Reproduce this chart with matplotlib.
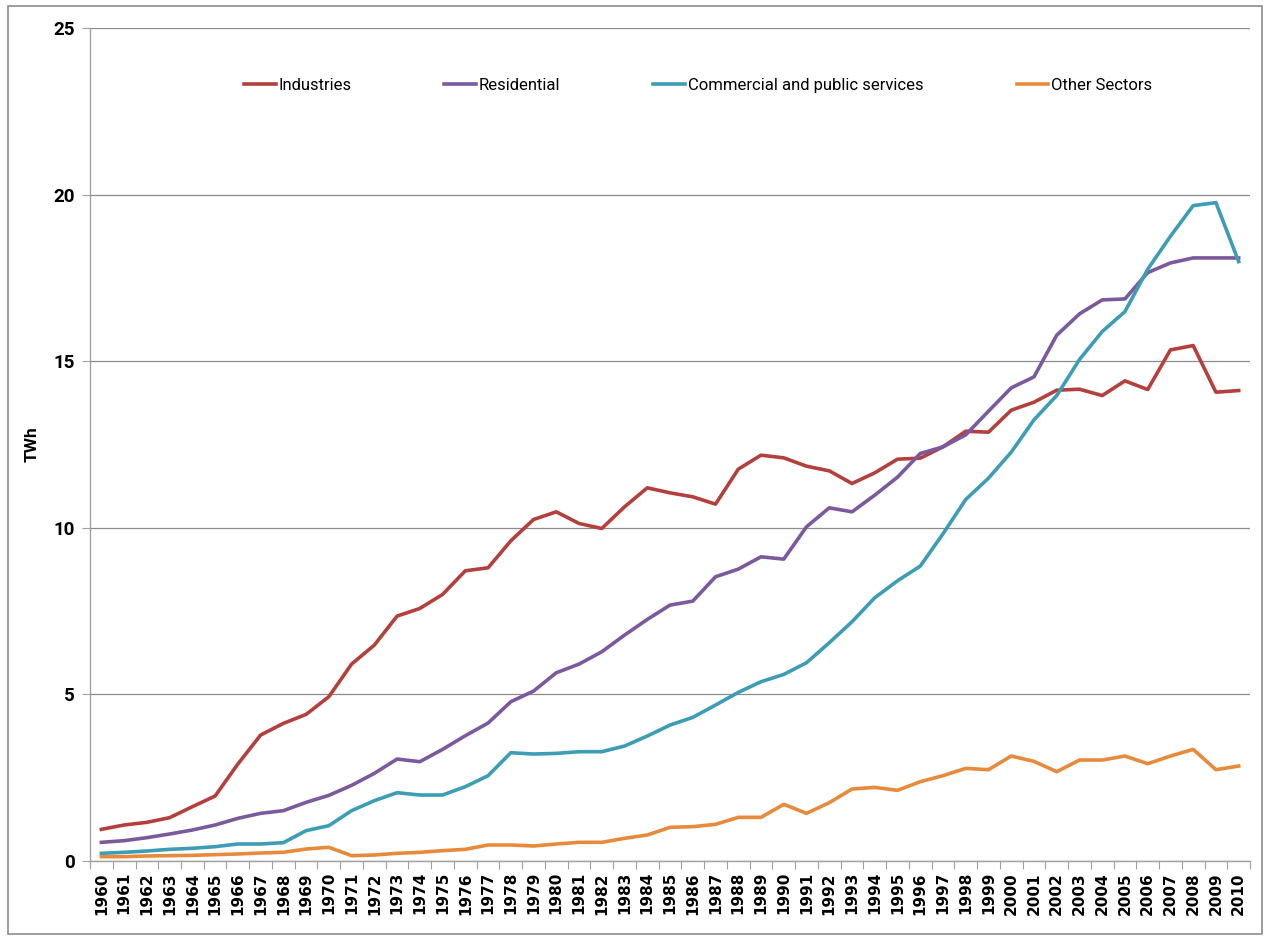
import matplotlib.pyplot as plt
from matplotlib.patches import Rectangle

years = [str(y) for y in range(1960, 2011)]

industries = [0.95, 1.08, 1.16, 1.30, 1.63, 1.95, 2.91, 3.78, 4.13, 4.40,
              4.93, 5.91, 6.48, 7.35, 7.58, 8.00, 8.71, 8.80, 9.61, 10.25,
              10.48, 10.13, 9.98, 10.63, 11.20, 11.05, 10.93, 10.71, 11.76, 12.18,
              12.10, 11.85, 11.71, 11.33, 11.65, 12.06, 12.09, 12.43, 12.90, 12.87,
              13.53, 13.77, 14.13, 14.16, 13.97, 14.41, 14.15, 15.34, 15.47, 14.07,
              14.12]
residential = [0.56, 0.61, 0.70, 0.81, 0.93, 1.08, 1.28, 1.43, 1.51, 1.76,
               1.97, 2.27, 2.63, 3.06, 2.98, 3.35, 3.76, 4.14, 4.78, 5.10,
               5.65, 5.91, 6.28, 6.78, 7.25, 7.68, 7.80, 8.53, 8.76, 9.13,
               9.06, 10.03, 10.60, 10.48, 10.98, 11.52, 12.23, 12.43, 12.79, 13.50,
               14.20, 14.53, 15.78, 16.42, 16.84, 16.87, 17.66, 17.95, 18.10, 18.10,
               18.10]
commercial = [0.23, 0.26, 0.30, 0.35, 0.38, 0.43, 0.51, 0.51, 0.55, 0.91,
              1.06, 1.51, 1.81, 2.05, 1.98, 1.98, 2.23, 2.56, 3.25, 3.21,
              3.23, 3.28, 3.28, 3.45, 3.75, 4.08, 4.31, 4.68, 5.06, 5.38,
              5.60, 5.95, 6.55, 7.18, 7.90, 8.41, 8.85, 9.82, 10.85, 11.49,
              12.27, 13.24, 13.97, 15.05, 15.89, 16.49, 17.76, 18.75, 19.67, 19.76,
              17.99]
other = [0.13, 0.13, 0.15, 0.16, 0.17, 0.19, 0.21, 0.24, 0.26, 0.36,
         0.41, 0.16, 0.18, 0.23, 0.26, 0.31, 0.35, 0.48, 0.48, 0.45,
         0.51, 0.56, 0.56, 0.68, 0.78, 1.01, 1.03, 1.10, 1.31, 1.31,
         1.70, 1.43, 1.75, 2.16, 2.21, 2.12, 2.38, 2.56, 2.78, 2.74,
         3.15, 2.99, 2.68, 3.03, 3.03, 3.15, 2.92, 3.15, 3.35, 2.74,
         2.85]

series = [
    ('Industries', industries, '#B3403D'),
    ('Residential', residential, '#7A5A9C'),
    ('Commercial and public services', commercial, '#3C9DB5'),
    ('Other Sectors', other, '#E88A3C'),
]

label_font = ['Roboto', 'DejaVu Sans']

fig = plt.figure(figsize=(12.66, 9.38), dpi=100)
ax = fig.add_axes([0.0711, 0.0821, 0.9163, 0.888])

x = list(range(len(years)))
for name, vals, col in series:
    ax.plot(x, vals, color=col, lw=2.6, label=name, solid_joinstyle='round')

ax.set_xlim(-0.5, len(years) - 0.5)
ax.set_ylim(0, 25)
ax.set_yticks([0, 5, 10, 15, 20, 25])
ax.yaxis.grid(True, color='#8c8c8c', lw=0.9)
ax.set_axisbelow(True)

# category ticks sit between the years, labels stay centred
ax.set_xticks([i - 0.5 for i in range(len(years) + 1)])
ax.set_xticklabels([])
ax.set_xticks(x, minor=True)
ax.set_xticklabels(years, minor=True, rotation=90, fontsize=11,
                   fontweight='bold', family='DejaVu Sans')
ax.tick_params(axis='x', which='minor', length=0, pad=8)
ax.tick_params(axis='x', which='major', length=6, color='#a0a0a0')
ax.tick_params(axis='y', length=6, color='#a0a0a0', pad=5)
for lab in ax.get_yticklabels():
    lab.set_family(label_font)
    lab.set_fontweight('bold')
    lab.set_fontsize(13.5)

for side in ['top', 'right']:
    ax.spines[side].set_visible(False)
for side in ['left', 'bottom']:
    ax.spines[side].set_color('#a0a0a0')
    ax.spines[side].set_linewidth(1.0)

ax.set_ylabel('TWh', fontsize=12.5, fontweight='bold', family=label_font, labelpad=10)

ax.legend(loc='center', bbox_to_anchor=(0.524, 0.931), ncol=4, frameon=False,
          prop={'family': label_font, 'size': 12}, handlelength=1.9,
          handletextpad=0.15, columnspacing=5.6)

# thin frame round the whole chart
fig.patches.append(Rectangle((0.006, 0.004), 0.991, 0.99, transform=fig.transFigure,
                             fill=False, edgecolor='#8c8c8c', lw=1.2))

fig.savefig('out.png', dpi=100)
